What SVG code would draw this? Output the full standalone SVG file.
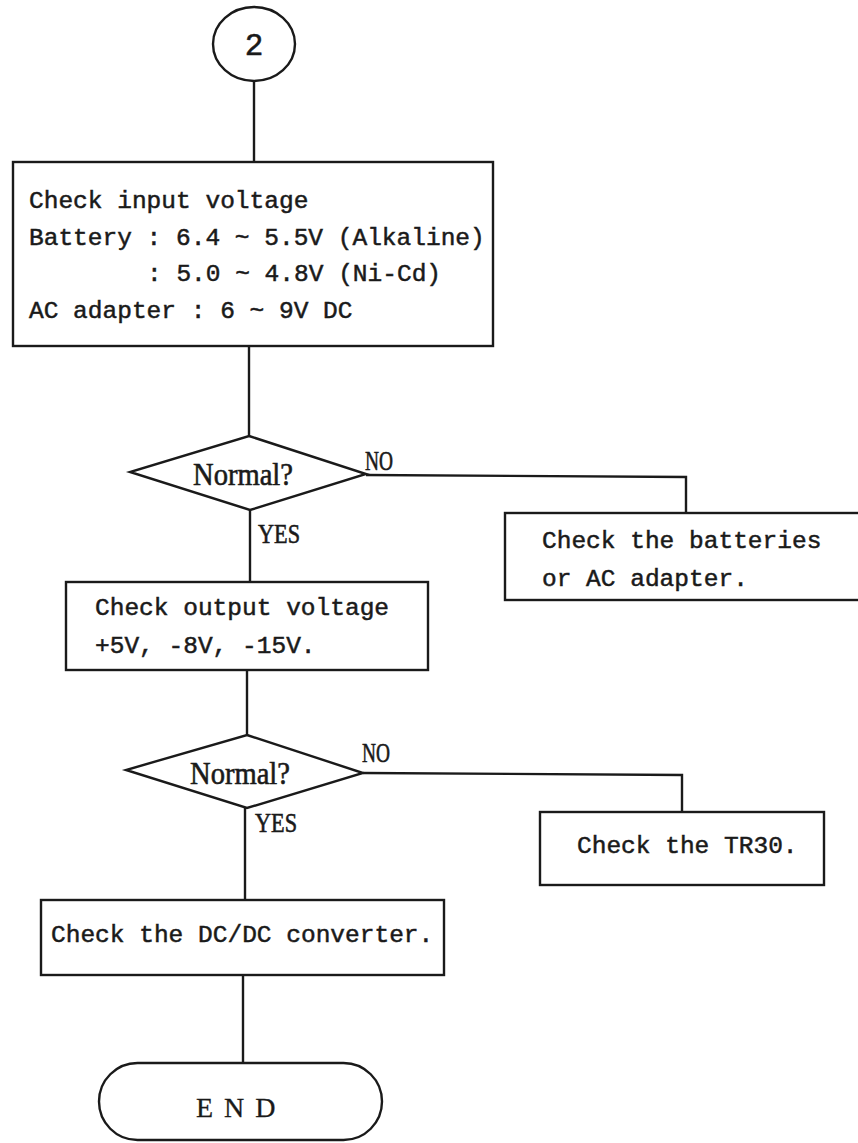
<svg xmlns="http://www.w3.org/2000/svg" width="858" height="1143" viewBox="0 0 858 1143">
<style>
.s{fill:none;stroke:#1a1a1a;stroke-width:2.4}
.n{fill:#fff;stroke:#1a1a1a;stroke-width:2.4}
.t{font-family:"Liberation Mono","DejaVu Sans Mono",monospace;font-size:24.5px;fill:#1a1a1a;stroke:#1a1a1a;stroke-width:0.5}
.c{font-family:"Liberation Serif","DejaVu Serif",serif;font-size:31px;fill:#1a1a1a;stroke:#1a1a1a;stroke-width:0.6}
.y{font-family:"Liberation Serif","DejaVu Serif",serif;font-size:27px;fill:#1a1a1a;stroke:#1a1a1a;stroke-width:0.6}
.e{font-family:"Liberation Serif","DejaVu Serif",serif;font-size:28px;fill:#1a1a1a;stroke:#1a1a1a;stroke-width:0.3}
</style>
<rect width="858" height="1143" fill="#fff"/>
<g id="connectors">
<line class="s" x1="254" y1="81" x2="254" y2="162"/>
<line class="s" x1="249" y1="346" x2="249" y2="436"/>
<line class="s" x1="250" y1="509" x2="250" y2="582"/>
<line class="s" x1="247" y1="670" x2="247" y2="735"/>
<line class="s" x1="245" y1="808" x2="245" y2="900"/>
<line class="s" x1="243" y1="975" x2="243" y2="1063"/>
<polyline class="s" points="366,475 686,477 686,513"/>
<polyline class="s" points="363,773 682,775 682,812"/>
<text class="y" x="365" y="470" textLength="28" lengthAdjust="spacingAndGlyphs">NO</text>
<text class="y" x="258" y="543" textLength="42" lengthAdjust="spacingAndGlyphs">YES</text>
<text class="y" x="362" y="762" textLength="28" lengthAdjust="spacingAndGlyphs">NO</text>
<text class="y" x="255" y="832" textLength="42" lengthAdjust="spacingAndGlyphs">YES</text>
</g>
<g id="start">
<ellipse class="n" cx="254" cy="44" rx="41" ry="37"/>
<text class="t" x="254" y="55" text-anchor="middle" style="font-size:31px">2</text>
</g>
<g id="check-input">
<rect class="n" x="13" y="162" width="480" height="184"/>
<text class="t" x="29" y="208">Check input voltage</text>
<text class="t" x="29" y="245">Battery : 6.4 ~ 5.5V (Alkaline)</text>
<text class="t" x="147" y="281">: 5.0 ~ 4.8V (Ni-Cd)</text>
<text class="t" x="29" y="318">AC adapter : 6 ~ 9V DC</text>
</g>
<g id="normal-1">
<polygon class="n" points="249,436 366,474 250,510 130,472"/>
<text class="c" x="193" y="485" textLength="100" lengthAdjust="spacingAndGlyphs">Normal?</text>
</g>
<g id="check-batteries">
<rect class="n" x="505" y="513" width="400" height="87"/>
<text class="t" x="542" y="548">Check the batteries</text>
<text class="t" x="542" y="586">or AC adapter.</text>
</g>
<g id="check-output">
<rect class="n" x="66" y="582" width="362" height="88"/>
<text class="t" x="95" y="615">Check output voltage</text>
<text class="t" x="95" y="653">+5V, -8V, -15V.</text>
</g>
<g id="normal-2">
<polygon class="n" points="247,735 363,773 247,808 126,770"/>
<text class="c" x="190" y="784" textLength="100" lengthAdjust="spacingAndGlyphs">Normal?</text>
</g>
<g id="check-tr30">
<rect class="n" x="540" y="812" width="284" height="73"/>
<text class="t" x="577" y="853">Check the TR30.</text>
</g>
<g id="check-dcdc">
<rect class="n" x="41" y="900" width="403" height="75"/>
<text class="t" x="51" y="942">Check the DC/DC converter.</text>
</g>
<g id="end">
<rect class="n" x="99" y="1063" width="283" height="77" rx="38.5" ry="38.5"/>
<text class="e" x="196" y="1117" letter-spacing="11">END</text>
</g>
</svg>
